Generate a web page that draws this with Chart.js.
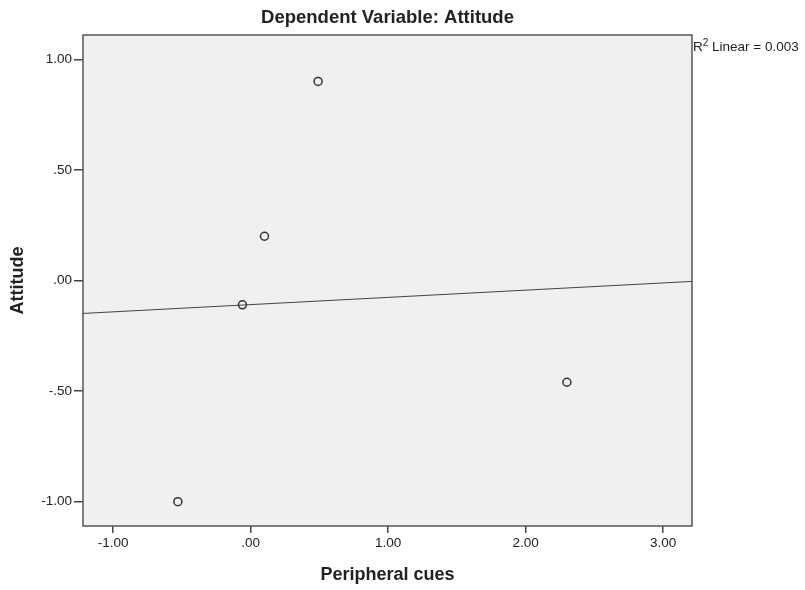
<!DOCTYPE html>
<html>
<head>
<meta charset="utf-8">
<title>Dependent Variable: Attitude</title>
<script src="https://cdn.jsdelivr.net/npm/chart.js@4/dist/chart.umd.min.js"></script>
<style>
    html, body { margin: 0; padding: 0; background: #fff; }
    #wrap { width: 805px; height: 590px; }
</style>
</head>
<body>
<div id="wrap"><canvas id="scatter" width="805" height="590"></canvas></div>
<script>
// Observed cases
const peripheralCues = [-0.53, -0.06, 0.10, 0.49, 2.30];
const attitude = [-1.00, -0.11, 0.20, 0.90, -0.46];

// Axis ranges and tick marks
const xRange = [-1.22, 3.21];
const yRange = [-1.11, 1.11];
const xTicks = [-1, 0, 1, 2, 3];
const yTicks = [-1, -0.5, 0, 0.5, 1];

const FONT = "'Liberation Sans', Arial, sans-serif";
const INK = '#222';

// SPSS-style number labels: .50, -.50, .00
function spssNum(v) {
    return v.toFixed(2).replace(/^(-?)0\./, '$1.');
}

// Least squares fit of attitude on peripheral cues
function linearFit(xs, ys) {
    const n = xs.length;
    const mx = xs.reduce((a, b) => a + b, 0) / n;
    const my = ys.reduce((a, b) => a + b, 0) / n;
    let sxy = 0, sxx = 0, syy = 0;
    for (let i = 0; i < n; i++) {
        sxy += (xs[i] - mx) * (ys[i] - my);
        sxx += (xs[i] - mx) ** 2;
        syy += (ys[i] - my) ** 2;
    }
    const slope = sxy / sxx;
    return { slope, intercept: my - slope * mx, r2: (sxy * sxy) / (sxx * syy) };
}

const fit = linearFit(peripheralCues, attitude);
const fitLine = xRange.map(x => ({ x: x, y: fit.intercept + fit.slope * x }));
const points = peripheralCues.map((x, i) => ({ x: x, y: attitude[i] }));

// Grey plot panel with a frame around it
const panel = {
    id: 'panel',
    beforeDatasetsDraw(chart) {
        const { ctx, chartArea: a } = chart;
        ctx.save();
        ctx.fillStyle = '#f0f0f0';
        ctx.fillRect(a.left, a.top, a.right - a.left, a.bottom - a.top);
        ctx.strokeStyle = '#555';
        ctx.lineWidth = 1.5;
        ctx.strokeRect(a.left, a.top, a.right - a.left, a.bottom - a.top);
        ctx.restore();
    },
    afterDraw(chart) {
        // R squared note at the top right of the panel
        const { ctx, chartArea: a } = chart;
        ctx.save();
        ctx.fillStyle = INK;
        ctx.textBaseline = 'alphabetic';
        ctx.textAlign = 'left';
        let x = a.right + 1;
        const y = a.top + 16;
        ctx.font = '13.5px ' + FONT;
        ctx.fillText('R', x, y);
        x += ctx.measureText('R').width;
        ctx.font = '10px ' + FONT;
        ctx.fillText('2', x, y - 5);
        x += ctx.measureText('2').width;
        ctx.font = '13.5px ' + FONT;
        ctx.fillText(' Linear = ' + fit.r2.toFixed(3), x, y);
        ctx.restore();
    }
};

new Chart(document.getElementById('scatter'), {
    type: 'scatter',
    data: {
        datasets: [
            {
                label: 'Attitude',
                data: points,
                pointRadius: 4,
                pointHoverRadius: 4,
                pointBorderWidth: 1.5,
                pointBackgroundColor: 'rgba(0,0,0,0)',
                pointBorderColor: '#333'
            },
            {
                type: 'line',
                label: 'Linear fit',
                data: fitLine,
                borderColor: '#444',
                borderWidth: 1,
                pointRadius: 0,
                fill: false
            }
        ]
    },
    options: {
        responsive: false,
        animation: false,
        layout: { padding: { left: 0, right: 113, top: 0, bottom: 0 } },
        plugins: {
            legend: { display: false },
            tooltip: { enabled: false },
            title: {
                display: true,
                fullSize: false,
                text: 'Dependent Variable: Attitude',
                color: INK,
                font: { family: FONT, size: 18.5, weight: 'bold' },
                padding: { top: 7, bottom: 5.8 }
            }
        },
        scales: {
            x: {
                type: 'linear',
                min: xRange[0],
                max: xRange[1],
                afterBuildTicks: s => { s.ticks = xTicks.map(v => ({ value: v })); },
                afterFit: s => { s.height = 64; },
                border: { display: false },
                grid: { drawOnChartArea: false, drawTicks: true, tickLength: 7, tickColor: '#444', lineWidth: 1.5 },
                ticks: {
                    color: INK,
                    padding: 2,
                    maxRotation: 0,
                    font: { family: FONT, size: 13.5 },
                    callback: v => spssNum(v)
                },
                title: {
                    display: true,
                    text: 'Peripheral cues',
                    color: INK,
                    font: { family: FONT, size: 18, weight: 'bold' },
                    padding: { top: 0, bottom: 4 }
                }
            },
            y: {
                type: 'linear',
                min: yRange[0],
                max: yRange[1],
                afterBuildTicks: s => { s.ticks = yTicks.map(v => ({ value: v })); },
                afterFit: s => { s.width = 83; },
                border: { display: false },
                grid: { drawOnChartArea: false, drawTicks: true, tickLength: 9, tickColor: '#444', lineWidth: 1.5 },
                ticks: {
                    color: INK,
                    padding: 2,
                    font: { family: FONT, size: 13.5 },
                    callback: v => spssNum(v)
                },
                title: {
                    display: true,
                    text: 'Attitude',
                    color: INK,
                    font: { family: FONT, size: 18, weight: 'bold' },
                    padding: { top: 7.5, bottom: 0 }
                }
            }
        }
    },
    plugins: [panel]
});
</script>
</body>
</html>
